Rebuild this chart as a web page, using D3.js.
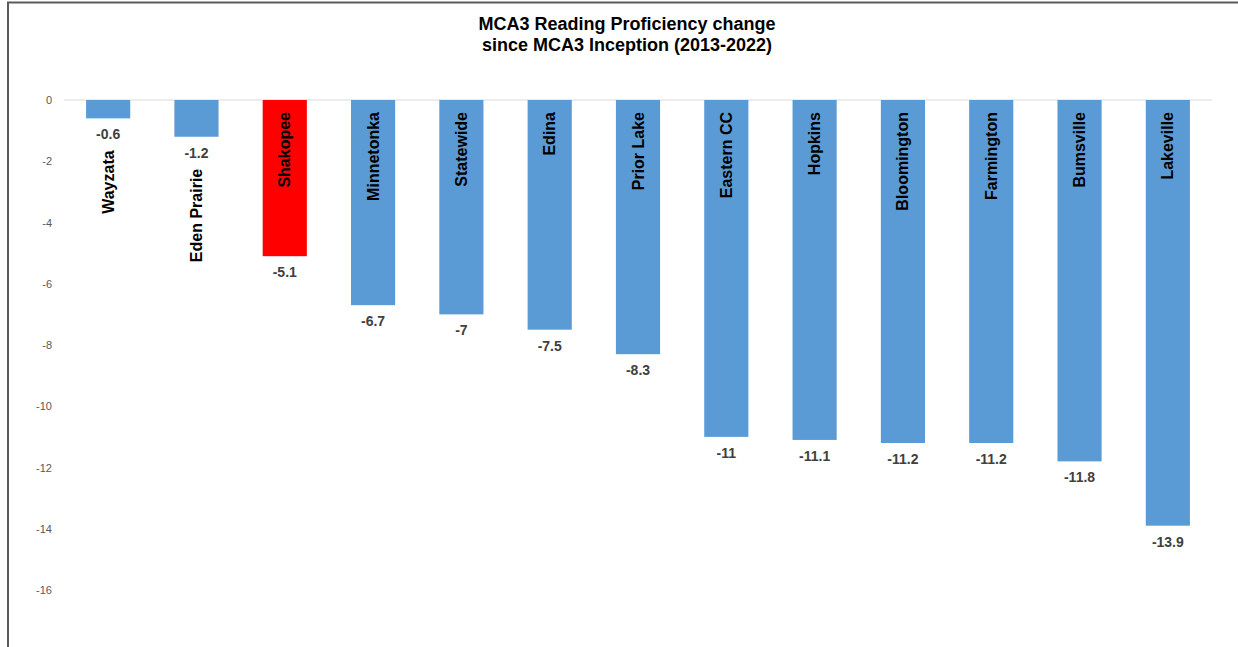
<!DOCTYPE html>
<html>
<head>
<meta charset="utf-8">
<script src="https://cdn.jsdelivr.net/npm/d3@7"></script>
<style>
  html, body { margin: 0; padding: 0; background: #fff; }
  svg { display: block; }
</style>
</head>
<body>
<svg id="chart" width="1238" height="647"></svg>
<script>
// District names, in chart order
const districts = ["Wayzata", "Eden Prairie", "Shakopee", "Minnetonka", "Statewide", "Edina",
  "Prior Lake", "Eastern CC", "Hopkins", "Bloomington", "Farmington", "Bumsville", "Lakeville"];
// Change in reading proficiency (percentage points), 2013-2022
const changes = [-0.6, -1.2, -5.1, -6.7, -7, -7.5, -8.3, -11, -11.1, -11.2, -11.2, -11.8, -13.9];
// Value axis ticks
const yTicks = [0, -2, -4, -6, -8, -10, -12, -14, -16];
const highlighted = "Shakopee";
const titleLines = ["MCA3 Reading Proficiency change", "since MCA3 Inception (2013-2022)"];

const W = 1238, H = 647;
const svg = d3.select("#chart");
const font = "'Liberation Sans', Arial, sans-serif";
// Plain hyphen for negative numbers
const fmt = v => String(v).replace("\u2212", "-");

// Frame lines along the top and left
svg.append("line").attr("x1", 7).attr("x2", W).attr("y1", 2.5).attr("y2", 2.5)
  .attr("stroke", "#5a5a5a").attr("stroke-width", 2);
svg.append("line").attr("x1", 8).attr("x2", 8).attr("y1", 2).attr("y2", H)
  .attr("stroke", "#5a5a5a").attr("stroke-width", 2);

// Title
svg.append("g").selectAll("text").data(titleLines).join("text")
  .attr("x", 627).attr("y", (d, i) => 30 + i * 21)
  .attr("text-anchor", "middle")
  .attr("font-family", font).attr("font-weight", "bold").attr("font-size", 18)
  .attr("fill", "#000").text(d => d);

const x = d3.scaleBand().domain(districts).range([64, 1212]).paddingInner(0.5).paddingOuter(0.25);
const y = d3.scaleLinear().domain([0, -18]).range([100, 651.25]);

// Value axis labels (no axis line)
const yAxis = svg.append("g").attr("transform", "translate(52,0)")
  .call(d3.axisLeft(y).tickValues(yTicks).tickSize(0).tickPadding(0).tickFormat(fmt));
yAxis.select(".domain").remove();
yAxis.selectAll("text").attr("font-family", font).attr("font-size", 11).attr("fill", "#595959");

// Zero line
svg.append("line").attr("x1", 64).attr("x2", 1212).attr("y1", y(0)).attr("y2", y(0))
  .attr("stroke", "#d9d9d9").attr("stroke-width", 1);

const rows = districts.map((name, i) => ({ name, value: changes[i] }));

// Bars
svg.append("g").selectAll("rect").data(rows).join("rect")
  .attr("x", d => x(d.name)).attr("width", x.bandwidth())
  .attr("y", y(0)).attr("height", d => y(d.value) - y(0))
  .attr("fill", d => d.name === highlighted ? "#ff0000" : "#5b9bd5");

// Value labels under each bar
svg.append("g").selectAll("text").data(rows).join("text")
  .attr("x", d => x(d.name) + x.bandwidth() / 2)
  .attr("y", d => y(d.value) + 21)
  .attr("text-anchor", "middle")
  .attr("font-family", font).attr("font-weight", "bold").attr("font-size", 14)
  .attr("fill", "#404040").text(d => fmt(d.value));

// District names, rotated: inside the bar near the top when the bar is long
// enough, otherwise below the bar's value label
const names = svg.append("g").selectAll("text").data(rows).join("text")
  .attr("text-anchor", "end")
  .attr("font-family", font).attr("font-weight", "bold").attr("font-size", 16)
  .attr("fill", "#000").text(d => d.name);
names.attr("transform", function (d) {
  const cx = x(d.name) + x.bandwidth() / 2 + 5.5;
  const len = this.getComputedTextLength();
  const barH = y(d.value) - y(0);
  const top = barH > len + 20 ? y(0) + 12 : y(d.value) + 32;
  return `translate(${cx},${top}) rotate(-90)`;
});
</script>
</body>
</html>
